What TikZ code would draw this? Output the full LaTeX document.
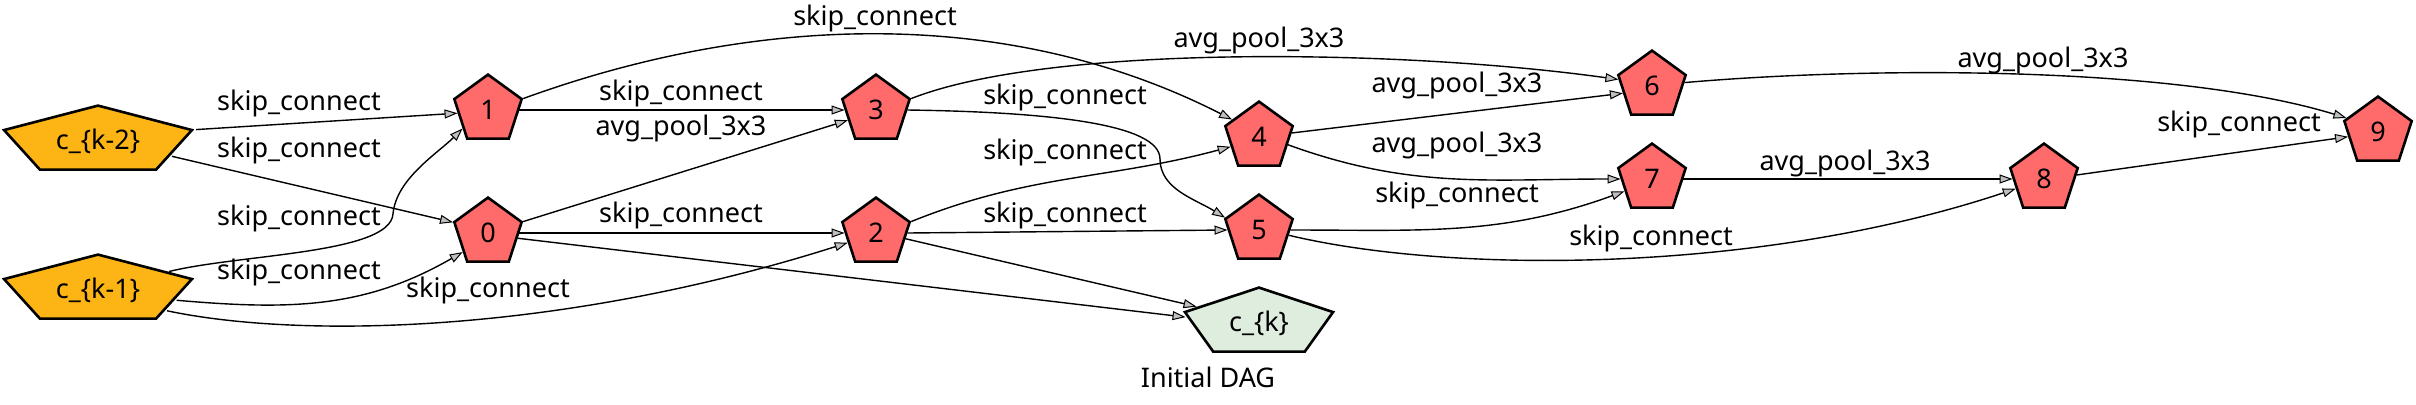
\documentclass[tikz,border=0pt]{standalone}
\usepackage{fontspec}
\setmainfont{Noto Sans}
\usetikzlibrary{shapes.geometric,arrows.meta}
\definecolor{opred}{HTML}{FF6B6B}
\definecolor{opgold}{HTML}{FDB515}
\definecolor{opgreen}{HTML}{DFEDDF}
\tikzset{
  cell/.style={regular polygon, regular polygon sides=5, draw, line width=1.3pt,
    minimum size=35.4pt, inner sep=0pt, font=\fontsize{13.5}{15}\selectfont},
  opnode/.style={cell, fill=opred},
  innode/.style={cell, fill=opgold},
  outnode/.style={cell, fill=opgreen},
  edge/.style={line width=0.7pt,
    -{Triangle[length=6.5pt,width=4.5pt,fill=lightgray,line width=0.5pt]}},
  elabel/.style={inner sep=0pt, font=\fontsize{13.5}{15}\selectfont}
}
\begin{document}
\begin{tikzpicture}[x=0.5pt,y=0.5pt]
\useasboundingbox (0,0) rectangle (2416,404);
% cell inputs and output
\node[innode, xscale=2.79] (ck2) at (98,263) {};
\node[elabel] (ck2txt) at (ck2) {c\_\{k-2\}};
\node[innode, xscale=2.79] (ck1) at (98,114) {};
\node[elabel] (ck1txt) at (ck1) {c\_\{k-1\}};
\node[outnode, xscale=2.2] (ck) at (1259,81) {};
\node[elabel] (cktxt) at (ck) {c\_\{k\}};
\node[elabel] (title) at (1208,27) {Initial DAG};
% intermediate nodes
\node[opnode] (n1) at (488,294) {1};
\node[opnode] (n0) at (488,171) {0};
\node[opnode] (n3) at (876,294) {3};
\node[opnode] (n2) at (876,171) {2};
\node[opnode] (n4) at (1259,267) {4};
\node[opnode] (n5) at (1259,174) {5};
\node[opnode] (n6) at (1652,318) {6};
\node[opnode] (n7) at (1652,225) {7};
\node[opnode] (n8) at (2044,225) {8};
\node[opnode] (n9) at (2378,272) {9};
% edges
\draw[edge] (ck2.corner 5) -- (n1.186);
\draw[edge] (ck2.-30) -- (n0.163);
\draw[edge] (ck1.36) .. controls (240,150) and (390,150) .. (393,190)
  .. controls (396,225) and (438,251) .. (n1.216);
\draw[edge] (ck1.-20) to[out=-5,in=210] (n0.217);
\draw[edge] (ck1.-40) .. controls (300,65) and (560,70) .. (n2.199);
\draw[edge] (n1.0) -- (n3.180);
\draw[edge] (n0.corner 5) -- (n3.200);
\draw[edge] (n0.0) -- (n2.180);
\draw[edge] (n0.-10) -- (ck.170);
\draw[edge] (n1.corner 5) to[out=20,in=153,looseness=0.9] (n4.147);
\draw[edge] (n3.corner 5) .. controls (1050,360) and (1400,355) .. (n6.169);
\draw[edge] (n3.0) .. controls (1050,292) and (1160,280) .. (1160,245)
  .. controls (1160,215) and (1195,205) .. (n5.160);
\draw[edge] (n2.corner 5) to[out=22,in=195] (n4.199);
\draw[edge] (n2.0) -- (n5.180);
\draw[edge] (n2.-11) -- (ck.150);
\draw[edge] (n4.7) -- (n6.194);
\draw[edge] (n4.-15) to[out=-20,in=180] (n7.180);
\draw[edge] (n5.0) to[out=0,in=200] (n7.204);
\draw[edge] (n5.-10) .. controls (1450,130) and (1760,130) .. (n8.199);
\draw[edge] (n6.6) to[out=5,in=163,looseness=0.7] (n9.156);
\draw[edge] (n7.0) -- (n8.180);
\draw[edge] (n8.7) -- (n9.189);
% edge labels
\node[elabel] (l1) at (299,301) {skip\_connect};
\node[elabel] (l2) at (299,254) {skip\_connect};
\node[elabel] (l3) at (299,186) {skip\_connect};
\node[elabel] (l4) at (299,132) {skip\_connect};
\node[elabel] (l5) at (488,114) {skip\_connect};
\node[elabel] (l6) at (681,311) {skip\_connect};
\node[elabel] (l7) at (681,276) {avg\_pool\_3x3};
\node[elabel] (l8) at (681,189) {skip\_connect};
\node[elabel] (l9) at (875,386) {skip\_connect};
\node[elabel] (l10) at (1259,364) {avg\_pool\_3x3};
\node[elabel] (l11) at (1065,307) {skip\_connect};
\node[elabel] (l12) at (1065,252) {skip\_connect};
\node[elabel] (l13) at (1065,189) {skip\_connect};
\node[elabel] (l14) at (1457,319) {avg\_pool\_3x3};
\node[elabel] (l15) at (1457,259) {avg\_pool\_3x3};
\node[elabel] (l16) at (1457,209) {skip\_connect};
\node[elabel] (l17) at (1651,166) {skip\_connect};
\node[elabel] (l18) at (2043,344) {avg\_pool\_3x3};
\node[elabel] (l19) at (1845,241) {avg\_pool\_3x3};
\node[elabel] (l20) at (2239,280) {skip\_connect};
\end{tikzpicture}
\end{document}
